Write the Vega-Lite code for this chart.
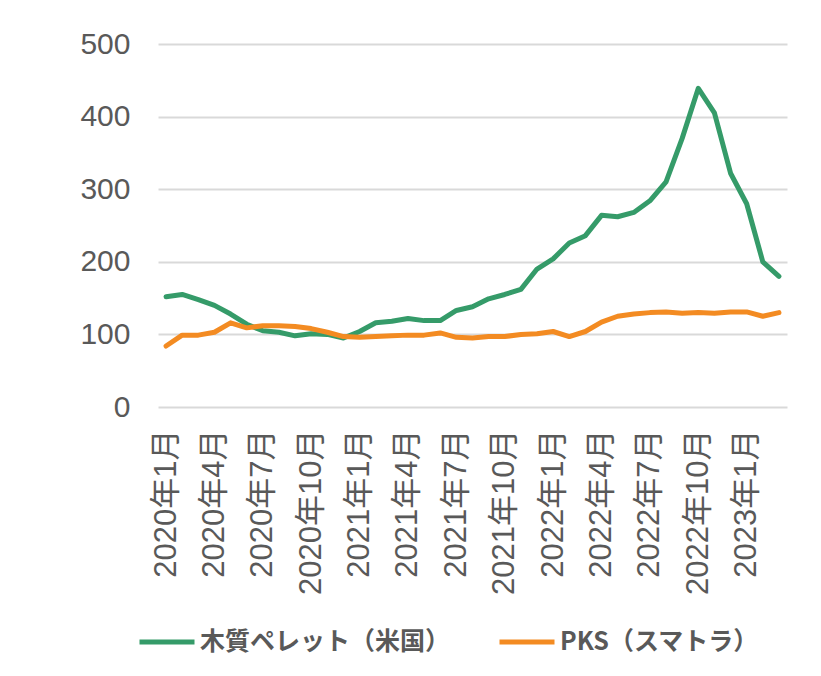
{
  "$schema": "https://vega.github.io/schema/vega-lite/v6.json",
  "width": 629,
  "height": 363,
  "autosize": {"type": "none"},
  "padding": {"left": 158, "top": 44, "right": 34, "bottom": 269},
  "background": "white",
  "config": {"view": {"stroke": null}},
  "data": {"values": [
    {"m":"2020年1月","s":"木質ペレット（米国）","v":152},
    {"m":"2020年2月","s":"木質ペレット（米国）","v":155},
    {"m":"2020年3月","s":"木質ペレット（米国）","v":148},
    {"m":"2020年4月","s":"木質ペレット（米国）","v":140},
    {"m":"2020年5月","s":"木質ペレット（米国）","v":128},
    {"m":"2020年6月","s":"木質ペレット（米国）","v":114},
    {"m":"2020年7月","s":"木質ペレット（米国）","v":105},
    {"m":"2020年8月","s":"木質ペレット（米国）","v":103},
    {"m":"2020年9月","s":"木質ペレット（米国）","v":98},
    {"m":"2020年10月","s":"木質ペレット（米国）","v":101},
    {"m":"2020年11月","s":"木質ペレット（米国）","v":100},
    {"m":"2020年12月","s":"木質ペレット（米国）","v":95},
    {"m":"2021年1月","s":"木質ペレット（米国）","v":104},
    {"m":"2021年2月","s":"木質ペレット（米国）","v":116},
    {"m":"2021年3月","s":"木質ペレット（米国）","v":118},
    {"m":"2021年4月","s":"木質ペレット（米国）","v":122},
    {"m":"2021年5月","s":"木質ペレット（米国）","v":119},
    {"m":"2021年6月","s":"木質ペレット（米国）","v":119},
    {"m":"2021年7月","s":"木質ペレット（米国）","v":133},
    {"m":"2021年8月","s":"木質ペレット（米国）","v":138},
    {"m":"2021年9月","s":"木質ペレット（米国）","v":149},
    {"m":"2021年10月","s":"木質ペレット（米国）","v":155},
    {"m":"2021年11月","s":"木質ペレット（米国）","v":162},
    {"m":"2021年12月","s":"木質ペレット（米国）","v":190},
    {"m":"2022年1月","s":"木質ペレット（米国）","v":204},
    {"m":"2022年2月","s":"木質ペレット（米国）","v":226},
    {"m":"2022年3月","s":"木質ペレット（米国）","v":236},
    {"m":"2022年4月","s":"木質ペレット（米国）","v":264},
    {"m":"2022年5月","s":"木質ペレット（米国）","v":262},
    {"m":"2022年6月","s":"木質ペレット（米国）","v":268},
    {"m":"2022年7月","s":"木質ペレット（米国）","v":284},
    {"m":"2022年8月","s":"木質ペレット（米国）","v":310},
    {"m":"2022年9月","s":"木質ペレット（米国）","v":370},
    {"m":"2022年10月","s":"木質ペレット（米国）","v":439},
    {"m":"2022年11月","s":"木質ペレット（米国）","v":405},
    {"m":"2022年12月","s":"木質ペレット（米国）","v":322},
    {"m":"2023年1月","s":"木質ペレット（米国）","v":280},
    {"m":"2023年2月","s":"木質ペレット（米国）","v":200},
    {"m":"2023年3月","s":"木質ペレット（米国）","v":180},
    {"m":"2020年1月","s":"PKS（スマトラ）","v":84},
    {"m":"2020年2月","s":"PKS（スマトラ）","v":99},
    {"m":"2020年3月","s":"PKS（スマトラ）","v":99},
    {"m":"2020年4月","s":"PKS（スマトラ）","v":103},
    {"m":"2020年5月","s":"PKS（スマトラ）","v":116},
    {"m":"2020年6月","s":"PKS（スマトラ）","v":109},
    {"m":"2020年7月","s":"PKS（スマトラ）","v":112},
    {"m":"2020年8月","s":"PKS（スマトラ）","v":112},
    {"m":"2020年9月","s":"PKS（スマトラ）","v":111},
    {"m":"2020年10月","s":"PKS（スマトラ）","v":108},
    {"m":"2020年11月","s":"PKS（スマトラ）","v":103},
    {"m":"2020年12月","s":"PKS（スマトラ）","v":97},
    {"m":"2021年1月","s":"PKS（スマトラ）","v":96},
    {"m":"2021年2月","s":"PKS（スマトラ）","v":97},
    {"m":"2021年3月","s":"PKS（スマトラ）","v":98},
    {"m":"2021年4月","s":"PKS（スマトラ）","v":99},
    {"m":"2021年5月","s":"PKS（スマトラ）","v":99},
    {"m":"2021年6月","s":"PKS（スマトラ）","v":102},
    {"m":"2021年7月","s":"PKS（スマトラ）","v":96},
    {"m":"2021年8月","s":"PKS（スマトラ）","v":95},
    {"m":"2021年9月","s":"PKS（スマトラ）","v":97},
    {"m":"2021年10月","s":"PKS（スマトラ）","v":97},
    {"m":"2021年11月","s":"PKS（スマトラ）","v":100},
    {"m":"2021年12月","s":"PKS（スマトラ）","v":101},
    {"m":"2022年1月","s":"PKS（スマトラ）","v":104},
    {"m":"2022年2月","s":"PKS（スマトラ）","v":97},
    {"m":"2022年3月","s":"PKS（スマトラ）","v":104},
    {"m":"2022年4月","s":"PKS（スマトラ）","v":117},
    {"m":"2022年5月","s":"PKS（スマトラ）","v":125},
    {"m":"2022年6月","s":"PKS（スマトラ）","v":128},
    {"m":"2022年7月","s":"PKS（スマトラ）","v":130},
    {"m":"2022年8月","s":"PKS（スマトラ）","v":131},
    {"m":"2022年9月","s":"PKS（スマトラ）","v":129},
    {"m":"2022年10月","s":"PKS（スマトラ）","v":130},
    {"m":"2022年11月","s":"PKS（スマトラ）","v":129},
    {"m":"2022年12月","s":"PKS（スマトラ）","v":131},
    {"m":"2023年1月","s":"PKS（スマトラ）","v":131},
    {"m":"2023年2月","s":"PKS（スマトラ）","v":125},
    {"m":"2023年3月","s":"PKS（スマトラ）","v":130}
  ]},
  "mark": {"type": "line", "strokeWidth": 5, "strokeCap": "round", "strokeJoin": "round"},
  "encoding": {
    "x": {
      "field": "m", "type": "ordinal", "sort": null,
      "scale": {"type": "point", "padding": 0.5},
      "axis": {
        "title": null, "domain": false, "ticks": false, "tickSize": 0, "grid": false,
        "labelAngle": -90, "labelPadding": 22,
        "labelFont": "Liberation Sans, Noto Sans CJK JP", "labelFontSize": 31, "labelColor": "#595959",
        "labelOverlap": false,
        "values": ["2020年1月","2020年4月","2020年7月","2020年10月","2021年1月","2021年4月","2021年7月","2021年10月","2022年1月","2022年4月","2022年7月","2022年10月","2023年1月"]
      }
    },
    "y": {
      "field": "v", "type": "quantitative",
      "scale": {"domain": [0, 500], "nice": false},
      "axis": {
        "title": null, "domain": false, "ticks": false, "tickSize": 0,
        "values": [0, 100, 200, 300, 400, 500],
        "labelPadding": 28, "labelFont": "Liberation Sans", "labelFontSize": 30, "labelColor": "#595959",
        "gridColor": "#D9D9D9", "gridWidth": 2
      }
    },
    "color": {
      "field": "s", "type": "nominal",
      "scale": {"domain": ["木質ペレット（米国）", "PKS（スマトラ）"], "range": ["#359B69", "#F38B22"]},
      "legend": {
        "title": null, "orient": "none", "legendX": -21, "legendY": 568,
        "direction": "horizontal", "padding": 0,
        "symbolType": "stroke", "symbolSize": 3025, "symbolStrokeWidth": 5,
        "labelFont": "Noto Sans CJK JP", "labelFontWeight": "bold", "labelFontSize": 25,
        "labelColor": "#595959", "labelOffset": 3, "columnPadding": 38, "labelLimit": 400
      }
    }
  }
}
